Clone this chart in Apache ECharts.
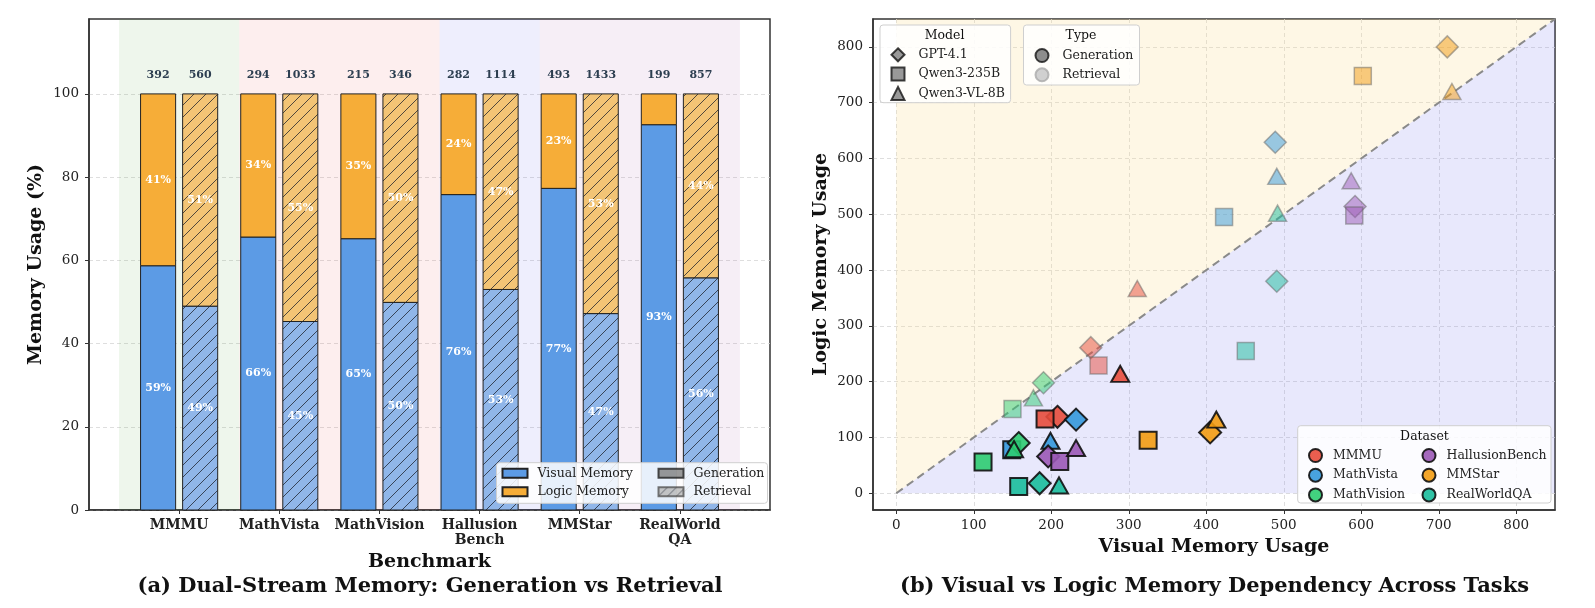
<!DOCTYPE html>
<html>
<head>
<meta charset="utf-8">
<script src="https://cdn.jsdelivr.net/npm/echarts@6/dist/echarts.min.js"></script>
<style>
html, body { margin: 0; padding: 0; background: #fff; }
#chart { width: 1595px; height: 608px; }
</style>
</head>
<body>
<div id="chart"></div>
<script>
// ---- left panel data (percent of memory, totals on top) ----
var benchmarks = ['MMMU', 'MathVista', 'MathVision', 'Hallusion\nBench', 'MMStar', 'RealWorld\nQA'];
var genVisualPct = [58.7, 65.6, 65.2, 75.8, 77.3, 92.6];
var genLogicPct = [41.3, 34.4, 34.8, 24.2, 22.7, 7.4];
var retVisualPct = [49.0, 45.3, 49.9, 53.0, 47.2, 55.8];
var retLogicPct = [51.0, 54.7, 50.1, 47.0, 52.8, 44.2];
var genTotal = [392, 294, 215, 282, 493, 199];
var retTotal = [560, 1033, 346, 1114, 1433, 857];
var pctTicks = [0, 20, 40, 60, 80, 100];
var bandEdges = [-0.6, 0.6, 2.6, 3.6, 5.6];

// ---- right panel data: [dataset][model] ----
var datasets = ['MMMU', 'MathVista', 'MathVision', 'HallusionBench', 'MMStar', 'RealWorldQA'];
var models = ['GPT-4.1', 'Qwen3-235B', 'Qwen3-VL-8B'];
var genVisual = [[208, 192, 289], [232, 149, 199], [158, 112, 152], [196, 211, 232], [405, 325, 413], [185, 158, 210]];
var genLogic = [[137, 133, 214], [132, 78, 94], [90, 56, 79], [66, 57, 81], [109, 95, 132], [18, 12, 14]];
var retVisual = [[251, 261, 311], [489, 423, 491], [190, 150, 177], [592, 591, 587], [711, 602, 717], [491, 451, 492]];
var retLogic = [[261, 229, 367], [629, 495, 568], [198, 151, 171], [514, 498, 560], [800, 748, 720], [380, 255, 502]];
var usageTicks = [0, 100, 200, 300, 400, 500, 600, 700, 800];

// ---- styles ----
var FONT = 'DejaVu Serif';
var visualColor = '#5c9be5', logicColor = '#f6ad38';
var visualRet = '#90b6e9', logicRet = '#f3c475';
var bandColors = ['rgba(85,165,65,0.1)', 'rgba(235,85,85,0.1)', 'rgba(85,85,235,0.1)', 'rgba(165,85,165,0.1)'];
var dsColors = ['#e74c3c', '#3498db', '#2ecc71', '#9b59b6', '#f39c12', '#1abc9c'];
var modelSymbols = ['diamond', 'rect', 'triangle'];
var modelSizes = [22, 17, [18, 16]];
var BAR_W = 0.35, BAR_OFF = 0.21, PCT_MAX = 118, LIM = 850;

function hatch(bg, size) {
    var c = document.createElement('canvas');
    c.width = c.height = size;
    var g = c.getContext('2d');
    g.fillStyle = bg;
    g.fillRect(0, 0, size, size);
    g.strokeStyle = 'rgba(25,30,40,0.75)';
    g.lineWidth = 1;
    g.beginPath();
    g.moveTo(0, size); g.lineTo(size, 0);
    g.moveTo(-size / 2, size / 2); g.lineTo(size / 2, -size / 2);
    g.moveTo(size / 2, size * 1.5); g.lineTo(size * 1.5, size / 2);
    g.stroke();
    return { image: c, repeat: 'repeat' };
}

var hatchBlue = hatch(visualRet, 12);
var hatchOrange = hatch(logicRet, 12);
var hatchGray = hatch('#b8b8b8', 9);

function barRenderer(offset, fill) {
    return function (params, api) {
        var x = api.value(0) + offset;
        var p0 = api.coord([x - BAR_W / 2, api.value(1)]);
        var p1 = api.coord([x + BAR_W / 2, api.value(2)]);
        var pct = api.value(3);
        var children = [{
            type: 'rect',
            shape: { x: p0[0], y: p1[1], width: p1[0] - p0[0], height: p0[1] - p1[1] },
            style: { fill: fill, stroke: '#222', lineWidth: 1 }
        }];
        if (pct > 10) {
            children.push({
                type: 'text',
                x: (p0[0] + p1[0]) / 2,
                y: (p0[1] + p1[1]) / 2,
                style: {
                    text: Math.round(pct) + '%', fill: '#fff', font: 'bold 11px ' + FONT,
                    align: 'center', verticalAlign: 'middle'
                }
            });
        }
        return { type: 'group', children: children };
    };
}

function totalRenderer(offset) {
    return function (params, api) {
        var p = api.coord([api.value(0) + offset, 104.5]);
        return {
            type: 'text', x: p[0], y: p[1],
            style: {
                text: String(api.value(1)), fill: '#2c3e50', font: 'bold 11px ' + FONT,
                align: 'center', verticalAlign: 'middle'
            }
        };
    };
}

var series = [];

series.push({
    type: 'custom', silent: true, z: 1, xAxisIndex: 0, yAxisIndex: 0,
    data: bandColors.map(function (c, k) { return [bandEdges[k], bandEdges[k + 1], k]; }),
    renderItem: function (params, api) {
        var p0 = api.coord([api.value(0), 0]);
        var p1 = api.coord([api.value(1), PCT_MAX]);
        return {
            type: 'rect',
            shape: { x: p0[0], y: p1[1], width: p1[0] - p0[0], height: p0[1] - p1[1] },
            style: { fill: bandColors[api.value(2)] }
        };
    }
});

var bars = [
    ['Visual Memory', -BAR_OFF, visualColor, visualColor, genVisualPct, null],
    ['Logic Memory', -BAR_OFF, logicColor, logicColor, genLogicPct, genVisualPct],
    ['Visual Memory', BAR_OFF, hatchBlue, visualColor, retVisualPct, null],
    ['Logic Memory', BAR_OFF, hatchOrange, logicColor, retLogicPct, retVisualPct]
];
bars.forEach(function (b) {
    series.push({
        name: b[0], type: 'custom', z: 2, xAxisIndex: 0, yAxisIndex: 0,
        itemStyle: { color: b[3], borderColor: '#222', borderWidth: 1 },
        data: b[4].map(function (v, i) {
            var base = b[5] ? b[5][i] : 0;
            return [i, base, base + v, v];
        }),
        renderItem: barRenderer(b[1], b[2])
    });
});

series.push({
    type: 'custom', silent: true, z: 3, xAxisIndex: 0, yAxisIndex: 0,
    data: genTotal.map(function (v, i) { return [i, v]; }),
    renderItem: totalRenderer(-BAR_OFF)
});
series.push({
    type: 'custom', silent: true, z: 3, xAxisIndex: 0, yAxisIndex: 0,
    data: retTotal.map(function (v, i) { return [i, v]; }),
    renderItem: totalRenderer(BAR_OFF)
});

series.push({
    name: 'Generation', type: 'scatter', xAxisIndex: 0, yAxisIndex: 0, data: [],
    itemStyle: { color: '#808080', borderColor: '#222', borderWidth: 1 }
});
series.push({
    name: 'Retrieval', type: 'scatter', xAxisIndex: 0, yAxisIndex: 0, data: [],
    itemStyle: { color: hatchGray, borderColor: '#555', borderWidth: 1 }
});

// right panel: shaded halves and diagonal
series.push({
    type: 'custom', silent: true, z: 1, xAxisIndex: 1, yAxisIndex: 1,
    data: [[0, LIM]],
    renderItem: function (params, api) {
        var a = api.coord([0, 0]), b = api.coord([0, LIM]), c = api.coord([LIM, LIM]), d = api.coord([LIM, 0]);
        return {
            type: 'group', children: [
                { type: 'polygon', shape: { points: [a, b, c] }, style: { fill: 'rgba(252,222,150,0.25)' } },
                { type: 'polygon', shape: { points: [a, d, c] }, style: { fill: 'rgba(120,120,240,0.17)' } }
            ]
        };
    }
});
series.push({
    type: 'line', silent: true, z: 2, xAxisIndex: 1, yAxisIndex: 1,
    data: [[0, 0], [LIM, LIM]], symbol: 'none',
    lineStyle: { color: '#8a8a8a', width: 2, type: [8, 5] }
});

function points(vis, log, d) {
    return models.map(function (m, k) {
        return { value: [vis[d][k], log[d][k]], symbol: modelSymbols[k], symbolSize: modelSizes[k] };
    });
}
datasets.forEach(function (name, d) {
    series.push({
        name: name, type: 'scatter', z: 4, xAxisIndex: 1, yAxisIndex: 1,
        data: points(genVisual, genLogic, d),
        itemStyle: { color: dsColors[d], opacity: 0.9, borderColor: '#111', borderWidth: 2 }
    });
});
datasets.forEach(function (name, d) {
    series.push({
        name: name, type: 'scatter', z: 3, xAxisIndex: 1, yAxisIndex: 1,
        data: points(retVisual, retLogic, d),
        itemStyle: { color: dsColors[d], opacity: 0.5, borderColor: '#666', borderWidth: 1.5 }
    });
});
models.forEach(function (name) {
    series.push({
        name: name, type: 'scatter', xAxisIndex: 1, yAxisIndex: 1, data: [],
        itemStyle: { color: '#808080', borderColor: '#111', borderWidth: 1.5 }
    });
});
series.push({
    name: 'Generation ', type: 'scatter', xAxisIndex: 1, yAxisIndex: 1, data: [],
    itemStyle: { color: '#707070', borderColor: '#111', borderWidth: 2 }
});
series.push({
    name: 'Retrieval ', type: 'scatter', xAxisIndex: 1, yAxisIndex: 1, data: [],
    itemStyle: { color: '#c4c4c4', borderColor: '#aaa', borderWidth: 1.5 }
});

var legendText = { fontFamily: FONT, fontSize: 12.5, color: '#222', lineHeight: 14 };
function legend(names, left, top, opts) {
    return Object.assign({
        data: names, left: left, top: top, orient: 'vertical', selectedMode: false, z: 6,
        padding: 0, itemWidth: 13, itemHeight: 13, itemGap: 4.5,
        textStyle: Object.assign({}, legendText, { padding: [0, 0, 0, 9] })
    }, opts || {});
}

var axisLabelStyle = { fontFamily: FONT, fontSize: 13.5, color: '#222' };
var nameStyle = { fontFamily: FONT, fontSize: 19, fontWeight: 'bold', color: '#111' };
var frameLine = { show: true, onZero: false, lineStyle: { color: '#333', width: 1.5 } };
var gridLine = { show: true, lineStyle: { color: '#d6d6d6', type: [4, 3], width: 0.8 } };

function boxRect(x, y, w, h) {
    return {
        type: 'rect', z: 5, shape: { x: x, y: y, width: w, height: h, r: 3 },
        style: { fill: 'rgba(255,255,255,0.85)', stroke: '#cfcfcf', lineWidth: 1 }
    };
}
function label(text, x, y, font) {
    return {
        type: 'text', z: 6, x: x, y: y,
        style: { text: text, font: font, fill: '#111', align: 'center', verticalAlign: 'middle' }
    };
}

var chart = echarts.init(document.getElementById('chart'));

var option = {
    animation: false,
    textStyle: { fontFamily: FONT },
    grid: [
        { left: 89, top: 19, width: 681, height: 491, show: true, borderColor: '#333', borderWidth: 1.5 },
        { left: 873, top: 19, width: 682, height: 491, show: true, borderColor: '#333', borderWidth: 1.5 }
    ],
    xAxis: [{
        gridIndex: 0, type: 'value', min: -0.9, max: 5.9,
        name: 'Benchmark', nameLocation: 'middle', nameGap: 43, nameTextStyle: nameStyle,
        axisLine: frameLine,
        axisTick: { customValues: [0, 1, 2, 3, 4, 5], length: 4, lineStyle: { color: '#333' } },
        axisLabel: Object.assign({
            customValues: [0, 1, 2, 3, 4, 5], lineHeight: 15, margin: 8,
            formatter: function (v) { return benchmarks[Math.round(v)]; }
        }, axisLabelStyle, { fontSize: 14, fontWeight: 'bold' }),
        splitLine: { show: false }
    }, {
        gridIndex: 1, type: 'value', min: -30, max: LIM,
        name: 'Visual Memory Usage', nameLocation: 'middle', nameGap: 28, nameTextStyle: nameStyle,
        axisLine: frameLine,
        axisTick: { customValues: usageTicks, length: 4, lineStyle: { color: '#333' } },
        axisLabel: Object.assign({ customValues: usageTicks, margin: 8 }, axisLabelStyle),
        splitLine: gridLine
    }],
    yAxis: [{
        gridIndex: 0, type: 'value', min: 0, max: PCT_MAX,
        name: 'Memory Usage (%)', nameLocation: 'middle', nameGap: 43, nameTextStyle: nameStyle,
        axisLine: frameLine,
        axisTick: { customValues: pctTicks, length: 4, lineStyle: { color: '#333' } },
        axisLabel: Object.assign({ customValues: pctTicks, margin: 10 }, axisLabelStyle),
        splitLine: gridLine
    }, {
        gridIndex: 1, type: 'value', min: -30, max: LIM,
        name: 'Logic Memory Usage', nameLocation: 'middle', nameGap: 42, nameTextStyle: nameStyle,
        axisLine: frameLine,
        axisTick: { customValues: usageTicks, length: 4, lineStyle: { color: '#333' } },
        axisLabel: Object.assign({ customValues: usageTicks, margin: 10 }, axisLabelStyle),
        splitLine: gridLine
    }],
    legend: [
        legend(['Visual Memory', 'Logic Memory'], 501.5, 466.3,
            { icon: 'rect', itemWidth: 25, itemHeight: 9, itemGap: 4.4,
              textStyle: Object.assign({}, legendText, { padding: [0, 0, 0, 5] }) }),
        legend(['Generation', 'Retrieval'], 657.5, 466.3,
            { icon: 'rect', itemWidth: 25, itemHeight: 9, itemGap: 4.4,
              textStyle: Object.assign({}, legendText, { padding: [0, 0, 0, 5] }) }),
        legend([
            { name: 'GPT-4.1', icon: 'diamond' },
            { name: 'Qwen3-235B', icon: 'rect' },
            { name: 'Qwen3-VL-8B', icon: 'triangle' }
        ], 890.5, 47.3, { itemGap: 4.3 }),
        legend([
            { name: 'Generation ', icon: 'circle' },
            { name: 'Retrieval ', icon: 'circle' }
        ], 1034.5, 48, { itemGap: 4.3 }),
        legend(datasets.slice(0, 3).map(function (n) { return { name: n, icon: 'circle' }; }), 1308, 448,
            { itemGap: 4.7, textStyle: Object.assign({}, legendText, { padding: [0, 0, 0, 6] }) }),
        legend(datasets.slice(3).map(function (n) { return { name: n, icon: 'circle' }; }), 1421.5, 448,
            { itemGap: 4.7, textStyle: Object.assign({}, legendText, { padding: [0, 0, 0, 6] }) })
    ],
    graphic: [
        boxRect(496.5, 462.7, 271, 40.6),
        boxRect(880, 25, 130.6, 77.7),
        boxRect(1023.5, 25, 116, 60),
        boxRect(1297.7, 425.7, 253.3, 77.3),
        label('Model', 944.6, 35.7, '12.5px ' + FONT),
        label('Type', 1081, 35.7, '12.5px ' + FONT),
        label('Dataset', 1424.5, 436.7, '12.5px ' + FONT),
        label('(a) Dual-Stream Memory: Generation vs Retrieval', 430, 586.7, 'bold 21px ' + FONT),
        label('(b) Visual vs Logic Memory Dependency Across Tasks', 1214.5, 586.7, 'bold 21px ' + FONT)
    ],
    series: series
};

chart.setOption(option);

window.onresize = function () {
    chart.resize();
};
</script>
</body>
</html>
